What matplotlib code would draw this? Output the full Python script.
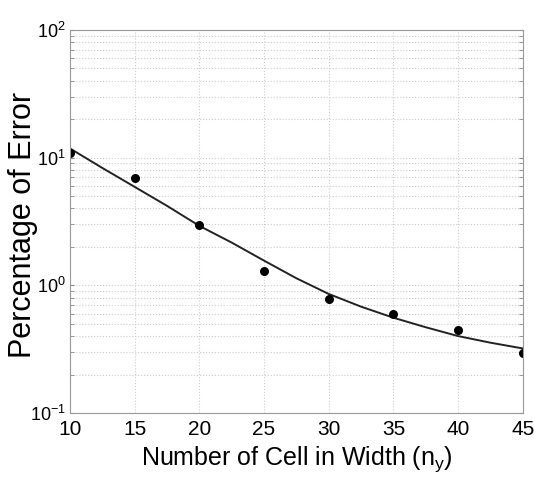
# percentage of error vs number of cells in width, log scale
import numpy as np
import matplotlib.pyplot as plt
from matplotlib.ticker import LogLocator, NullFormatter

plt.rcParams['font.family'] = ['Liberation Sans', 'DejaVu Sans']
plt.rcParams['mathtext.fontset'] = 'custom'
plt.rcParams['mathtext.rm'] = 'Liberation Sans'
plt.rcParams['mathtext.it'] = 'Liberation Sans'

# measured points
cells = [10, 15, 20, 25, 30, 35, 40, 45]
error = [10.9, 6.93, 2.97, 1.30, 0.78, 0.60, 0.45, 0.295]

# fitted curve
fit_cells = [10, 12.5, 15, 17.5, 20, 22.5, 25, 27.5, 30, 32.5, 35, 37.5, 40, 42.5, 45]
fit_error = [11.8, 8.3, 5.9, 4.19, 2.92, 2.16, 1.56, 1.135, 0.855, 0.68, 0.557, 0.469, 0.40, 0.355, 0.32]

xticks = [10, 15, 20, 25, 30, 35, 40, 45]

fig = plt.figure(figsize=(5.34, 4.91), dpi=100)
ax = fig.add_axes([0.131, 0.159, 0.848, 0.780])

ax.plot(fit_cells, fit_error, color='#222222', lw=1.4)
ax.plot(cells, error, 'o', color='black', ms=6.5, mew=0)

ax.set_yscale('log')
ax.set_xlim(10, 45)
ax.set_ylim(0.1, 100)
ax.set_xticks(xticks)
ax.yaxis.set_major_locator(LogLocator(base=10))
ax.yaxis.set_minor_locator(LogLocator(base=10, subs=np.arange(2, 10)))
ax.yaxis.set_minor_formatter(NullFormatter())

ax.grid(True, which='major', color='#cccccc', ls=':', lw=0.8)
ax.grid(True, which='minor', axis='y', color='#cccccc', ls=':', lw=0.8)

ax.tick_params(which='both', direction='in', right=True, top=False,
               color='#888888', length=3)
ax.tick_params(axis='x', length=0, pad=5, labelsize=15)
ax.tick_params(axis='y', pad=3, labelsize=13)
for s in ax.spines.values():
    s.set_color('#999999')

ax.set_xlabel('Number of Cell in Width (n$_\\mathregular{y}$)', fontsize=18, labelpad=4)
ax.set_ylabel('Percentage of Error', fontsize=22)
ax.yaxis.set_label_coords(-0.07, 0.49)

fig.savefig('out.png', dpi=100)
